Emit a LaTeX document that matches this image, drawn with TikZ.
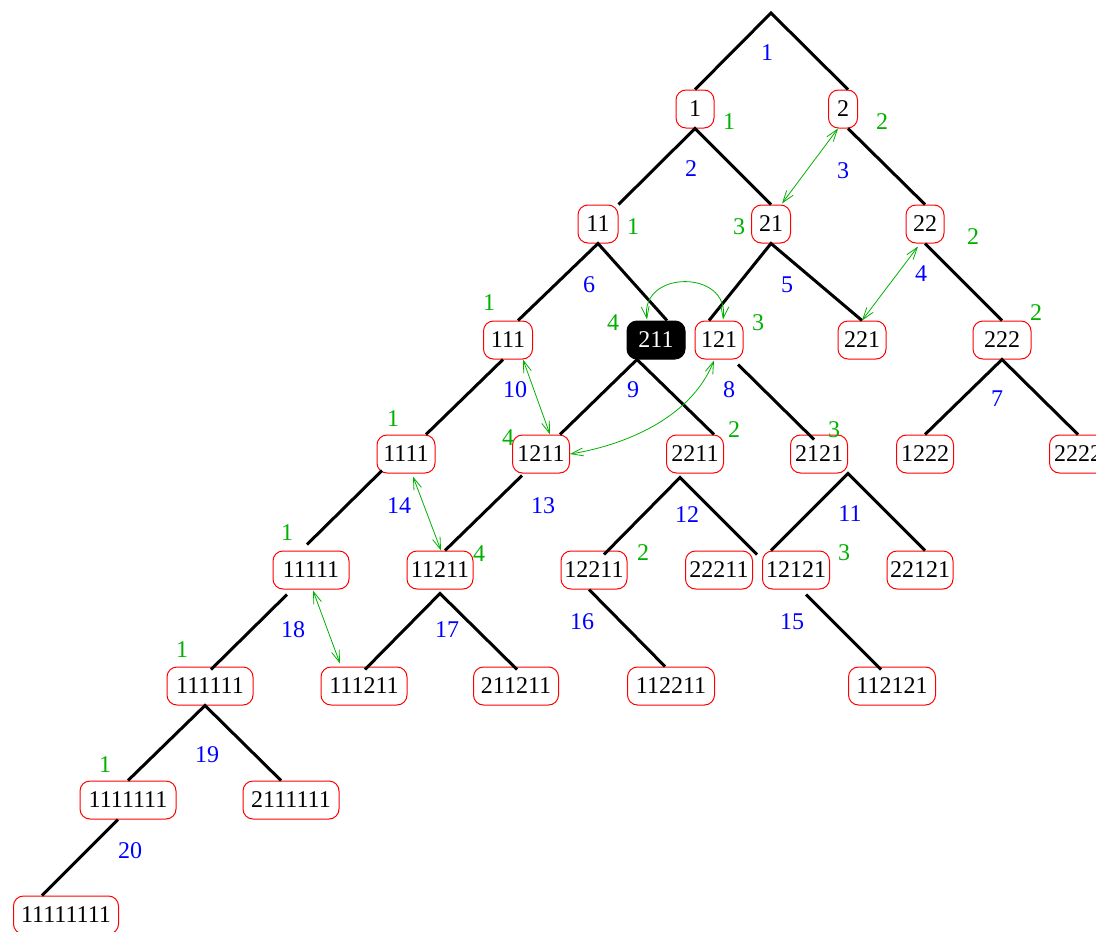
\documentclass[tikz,border=0pt]{standalone}
\usepackage{fontspec}
\setmainfont{Liberation Serif}
\usetikzlibrary{calc,arrows.meta}
\definecolor{xgreen}{RGB}{0,176,0}
\definecolor{xblue}{RGB}{0,0,255}
\definecolor{xred}{RGB}{255,0,0}
\begin{document}
\begin{tikzpicture}[x=1pt,y=-1pt,
  txt/.style={inner sep=0pt, font=\fontsize{24}{28}\selectfont},
  box/.style={txt, draw=xred, line width=1pt, rounded corners=10pt, minimum height=38pt},
  hibox/.style={box, draw=black, fill=black, text=white},
  edge/.style={line width=3pt, black},
  lnk/.style={xgreen, line width=0.8pt, {Straight Barb[length=12pt,width=8pt]}-{Straight Barb[length=12pt,width=8pt]}},
  bl/.style={txt, text=xblue},
  gl/.style={txt, text=xgreen}]
\useasboundingbox (0,0) rectangle (1096,932);

% nodes
\coordinate (apex) at (771,13);
\node[box, minimum width=38pt] (n1) at (695,109) {1};
\node[box, minimum width=29pt] (n2) at (843,109) {2};
\node[box, minimum width=40pt] (n11) at (598,224) {11};
\node[box, minimum width=39pt] (n21) at (771,224) {21};
\node[box, minimum width=38pt] (n22) at (925,224) {22};
\node[box, minimum width=49pt] (n111) at (508,340) {111};
\node[hibox, minimum width=58pt] (n211) at (656,340) {211};
\node[box, minimum width=48pt] (n121) at (719,340) {121};
\node[box, minimum width=48pt] (n221) at (862,340) {221};
\node[box, minimum width=58pt] (n222) at (1002,340) {222};
\node[box, minimum width=58pt] (n1111) at (406,454) {1111};
\node[box, minimum width=57pt] (n1211) at (541,454) {1211};
\node[box, minimum width=57pt] (n2211) at (695,454) {2211};
\node[box, minimum width=57pt] (n2121) at (819,454) {2121};
\node[box, minimum width=57pt] (n1222) at (925,454) {1222};
\node[box, minimum width=57pt] (n2222) at (1078,454) {2222};
\node[box, minimum width=76pt] (n11111) at (311,570) {11111};
\node[box, minimum width=66pt] (n11211) at (440,570) {11211};
\node[box, minimum width=66pt] (n12211) at (594,570) {12211};
\node[box, minimum width=67pt] (n22211) at (719,570) {22211};
\node[box, minimum width=67pt] (n12121) at (796,570) {12121};
\node[box, minimum width=66pt] (n22121) at (920,570) {22121};
\node[box, minimum width=86pt] (n111111) at (210,686) {111111};
\node[box, minimum width=86pt] (n111211) at (364,686) {111211};
\node[box, minimum width=85pt] (n211211) at (516,686) {211211};
\node[box, minimum width=87pt] (n112211) at (671,686) {112211};
\node[box, minimum width=87pt] (n112121) at (892,686) {112121};
\node[box, minimum width=96pt] (n1111111) at (128,800) {1111111};
\node[box, minimum width=96pt] (n2111111) at (291,800) {2111111};
\node[box, minimum width=105pt] (n11111111) at (66,915) {11111111};

% tree edges
\draw[edge] (n1.north) -- (apex) -- ($(n2.north)+(5,0)$);
\draw[edge] (n11.north east) -- (n1.south) -- (n21.north);
\draw[edge] ($(n2.south)+(5,0)$) -- (n22.north);
\draw[edge] ($(n111.north)+(10,0)$) -- (n11.south) -- ($(n211.north)+(11,0)$);
\draw[edge] ($(n121.north)+(-10,0)$) -- (n21.south) -- (n221.north);
\draw[edge] (n22.south) -- (n222.north);
\draw[edge] ($(n111.south)+(-5,0)$) -- ($(n1111.north)+(20,0)$);
\draw[edge] ($(n1211.north)+(19,0)$) -- ($(n211.south)+(-19,0)$) -- ($(n2211.north)+(19,0)$);
\draw[edge] ($(n121.south)+(19,5)$) -- ($(n2121.north)+(-5,5)$);
\draw[edge] (n1222.north) -- (n222.south) -- (n2222.north);
\draw[edge] ($(n1111.south)+(-24,-3)$) -- ($(n11111.north)+(-4,-6)$);
\draw[edge] ($(n1211.south)+(-19,2)$) -- ($(n11211.north)+(5,0)$);
\draw[edge] ($(n12211.north)+(10,4)$) -- ($(n2211.south)+(-15,4)$) -- ($(n22211.north)+(38,4)$);
\draw[edge] ($(n12121.north)+(-25,0)$) -- ($(n2121.south)+(29,0)$) -- ($(n22121.north)+(5,0)$);
\draw[edge] ($(n11111.south)+(-24,5)$) -- ($(n111111.north)+(1,3)$);
\draw[edge] ($(n111211.north)+(1,3)$) -- ($(n11211.south)+(0,4)$) -- ($(n211211.north)+(1,3)$);
\draw[edge] ($(n12211.south)+(-5,0)$) -- ($(n112211.north)+(-6,0)$);
\draw[edge] ($(n12121.south)+(10,5)$) -- ($(n112121.north)+(-11,3)$);
\draw[edge] (n1111111.north) -- ($(n111111.south)+(-5,0)$) -- ($(n2111111.north)+(-10,0)$);
\draw[edge] ($(n1111111.south)+(-10,0)$) -- ($(n11111111.north)+(-24,0)$);

% green links
\draw[lnk] ($(n2.south)+(-5,0)$) -- ($(n21.north)+(11,-1)$);
\draw[lnk] ($(n22.south)+(-7,3)$) -- (n221.north);
\draw[lnk] ($(n111.south)+(15,0)$) -- ($(n1211.north)+(9,0)$);
\draw[lnk] ($(n211.north)+(-9,-1)$) .. controls +(-7,-50) and +(7,-50) .. ($(n121.north)+(4,-1)$);
\draw[lnk] ($(n121.south)+(-5,1)$) .. controls +(-24,60) and +(50,-8) .. (n1211.east);
\draw[lnk] ($(n1111.south)+(7,3)$) -- ($(n11211.north)+(1,0)$);
\draw[lnk] ($(n11111.south)+(2,1)$) -- ($(n111211.north)+(-24,-3)$);

% blue edge numbers
\node[bl] (b1) at (767,53) {1};
\node[bl] (b2) at (691,169) {2};
\node[bl] (b3) at (843,171) {3};
\node[bl] (b4) at (921,274) {4};
\node[bl] (b5) at (787,285) {5};
\node[bl] (b6) at (589,285) {6};
\node[bl] (b7) at (997,399) {7};
\node[bl] (b8) at (729,390) {8};
\node[bl] (b9) at (633,390) {9};
\node[bl] (b10) at (515,390) {10};
\node[bl] (b11) at (850,514) {11};
\node[bl] (b12) at (687,515) {12};
\node[bl] (b13) at (543,506) {13};
\node[bl] (b14) at (399,506) {14};
\node[bl] (b15) at (792,622) {15};
\node[bl] (b16) at (582,622) {16};
\node[bl] (b17) at (447,630) {17};
\node[bl] (b18) at (293,630) {18};
\node[bl] (b19) at (207,755) {19};
\node[bl] (b20) at (130,851) {20};

% green node numbers
\node[gl] (g1) at (729,122) {1};
\node[gl] (g2) at (882,122) {2};
\node[gl] (g3) at (633,227) {1};
\node[gl] (g4) at (739,227) {3};
\node[gl] (g5) at (973,237) {2};
\node[gl] (g6) at (489,303) {1};
\node[gl] (g7) at (613,323) {4};
\node[gl] (g8) at (758,323) {3};
\node[gl] (g9) at (1036,313) {2};
\node[gl] (g10) at (393,419) {1};
\node[gl] (g11) at (508,438) {4};
\node[gl] (g12) at (734,430) {2};
\node[gl] (g13) at (834,430) {3};
\node[gl] (g14) at (287,533) {1};
\node[gl] (g15) at (479,554) {4};
\node[gl] (g16) at (643,553) {2};
\node[gl] (g17) at (844,553) {3};
\node[gl] (g18) at (182,650) {1};
\node[gl] (g19) at (105,765) {1};
\end{tikzpicture}
\end{document}
